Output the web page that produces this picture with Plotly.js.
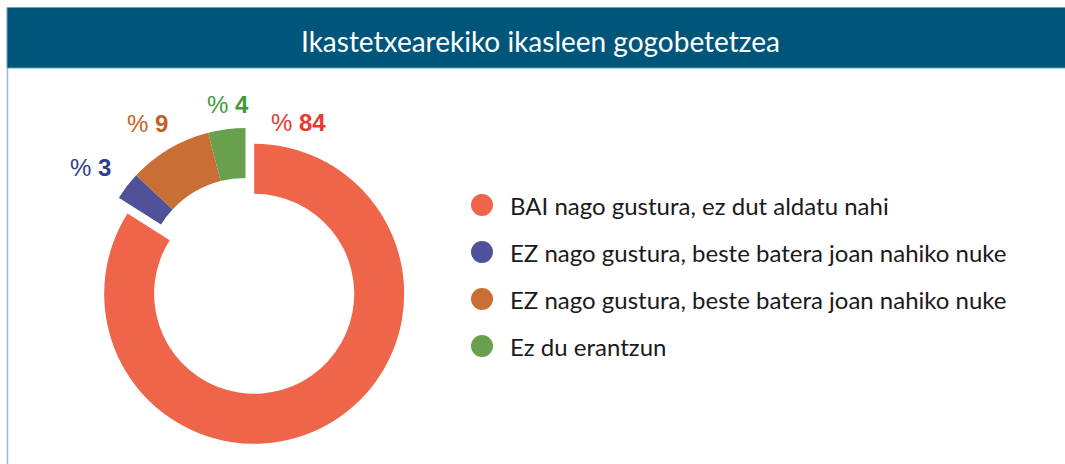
<!DOCTYPE html>
<html>
<head>
<meta charset="utf-8">
<script src="https://cdn.plot.ly/plotly-3.0.1.min.js"></script>
<style>html,body{margin:0;padding:0;background:#fff;}#chart{width:1065px;height:464px;}</style>
</head>
<body>
<div id="chart"></div>
<script>
// ---- data ----
const categories = [
  "BAI nago gustura, ez dut aldatu nahi",
  "EZ nago gustura, beste batera joan nahiko nuke",
  "EZ nago gustura, beste batera joan nahiko nuke",
  "Ez du erantzun"
];
const values = [84, 3, 9, 4];
const sliceColors = ["#EE654A", "#4F5299", "#C96F35", "#68A04E"];
const labelColors = ["#E8392F", "#2E3C8C", "#C4601F", "#3F9A3A"];
const title = "Ikastetxearekiko ikasleen gogobetetzea";

// ---- layout helpers (pixel -> paper) ----
const W = 1065, H = 464;
const px = x => x / W;
const py = y => 1 - y / H;

// positions of the value labels (layout only)
const labelPos = [[298, 122], [90, 167], [147, 124], [228, 105]];
const legendX = 482, legendTextX = 508, legendY = [205, 252, 299, 346];

const pie = {
  type: "pie",
  values: values,
  customdata: categories,
  sort: false,
  direction: "clockwise",
  rotation: 0,
  hole: 0.667,
  pull: [0.12, 0, 0, 0],
  marker: { colors: sliceColors, line: { width: 0 } },
  textinfo: "none",
  hovertemplate: "%{customdata}: %{value}%<extra></extra>",
  showlegend: false,
  domain: { x: [px(77.5), px(413.5)], y: [py(446), py(110)] }
};

const shapes = [
  { type: "rect", xref: "paper", yref: "paper", x0: px(7), x1: 1.01, y0: py(68), y1: py(7.5),
    fillcolor: "#00567A", line: { color: "#6FA3C2", width: 1 }, layer: "below" },
  { type: "line", xref: "paper", yref: "paper", x0: px(7.5), x1: px(7.5), y0: 0, y1: py(68),
    line: { color: "#8DB9D4", width: 1.5 } }
];
const annotations = [
  { xref: "paper", yref: "paper", x: px(540), y: py(41), xanchor: "center", yanchor: "middle",
    text: title, showarrow: false, font: { family: "Lato", size: 28, color: "#ffffff" } }
];
values.forEach((v, i) => {
  annotations.push({
    xref: "paper", yref: "paper", x: px(labelPos[i][0]), y: py(labelPos[i][1]),
    xanchor: "center", yanchor: "middle", showarrow: false,
    text: "% <b>" + v + "</b>",
    font: { family: "Liberation Sans", size: 24, color: labelColors[i] }
  });
});
categories.forEach((c, i) => {
  shapes.push({
    type: "circle", xref: "paper", yref: "paper", xsizemode: "pixel", ysizemode: "pixel",
    xanchor: px(legendX), yanchor: py(legendY[i]), x0: -11, x1: 11, y0: -11, y1: 11,
    fillcolor: sliceColors[i], line: { width: 0 }
  });
  annotations.push({
    xref: "paper", yref: "paper", x: px(legendTextX), y: py(legendY[i]),
    xanchor: "left", yanchor: "middle", showarrow: false, text: c,
    font: { family: "Lato", size: 24, color: "#1a1a1a" }
  });
});

const layout = {
  width: W, height: H,
  margin: { l: 0, r: 0, t: 0, b: 0 },
  paper_bgcolor: "#ffffff",
  showlegend: false,
  shapes: shapes,
  annotations: annotations
};

Plotly.newPlot("chart", [pie], layout, { displayModeBar: false, staticPlot: false });
</script>
</body>
</html>
